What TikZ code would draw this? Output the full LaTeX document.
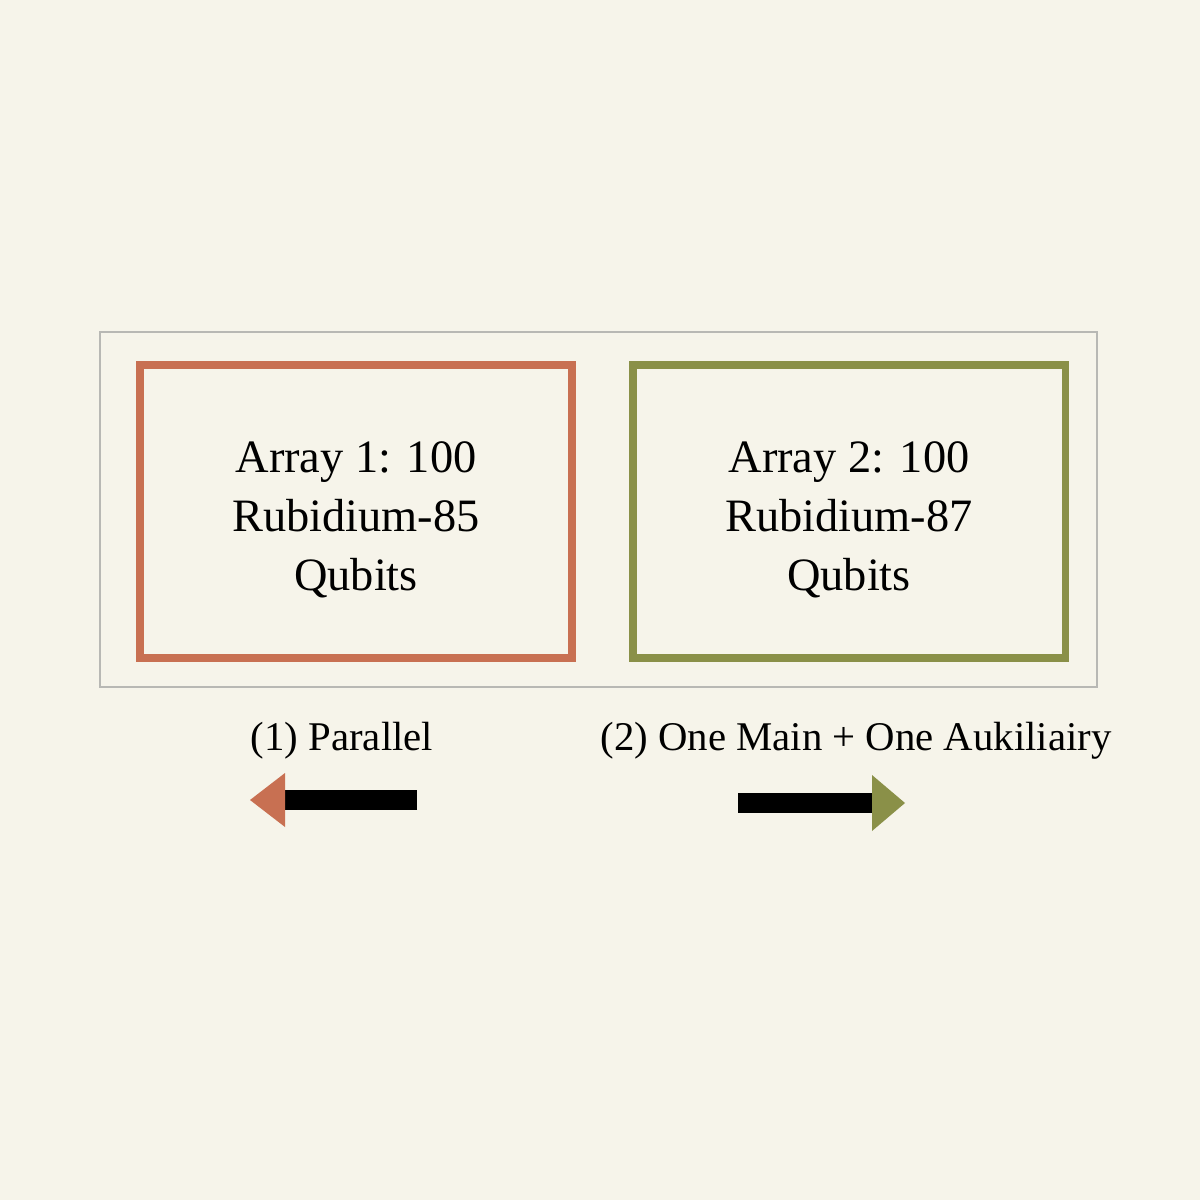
\documentclass[tikz,border=0pt]{standalone}
\usepackage{fontspec}
\setmainfont{Liberation Serif}
\definecolor{bg}{HTML}{F6F4EA}
\definecolor{rust}{HTML}{C87052}
\definecolor{olive}{HTML}{8A9048}
\definecolor{frame}{HTML}{B8B8B4}
\begin{document}
\begin{tikzpicture}[x=0.025cm,y=-0.025cm,
  box/.style={draw, line width=5pt, minimum width=432*0.025cm, minimum height=293*0.025cm},
  txt/.style={align=center, font=\fontsize{33}{42}\selectfont},
  lbl/.style={font=\fontsize{29}{34}\selectfont}]
\fill[bg] (0,0) rectangle (1200,1200);
\useasboundingbox (0,0) rectangle (1200,1200);
\draw[frame, line width=1.5pt] (100,332) rectangle (1097,687);
\node[box, draw=rust] (a1) at (356,511.5) {};
\node[box, draw=olive] (a2) at (849,511.5) {};
\node[txt] (t1) at (356,520) {Array 1: 100\\Rubidium-85\\Qubits};
\node[txt] (t2) at (849,520) {Array 2: 100\\Rubidium-87\\Qubits};
\node[lbl] (l1) at (342,741) {(1) Parallel};
\node[lbl] (l2) at (856,741) {(2) One Main + One Aukiliairy};
\coordinate (p1) at (417,800); \coordinate (p2) at (285,800);
\coordinate (q1) at (738,803); \coordinate (q2) at (872,803);
\draw[line width=20*0.025cm*28.45pt/1cm, black] (p1) -- (p2);
\fill[rust] (p2) ++(0,-27) -- ++(0,54) -- (250,800) -- cycle;
\draw[line width=20*0.025cm*28.45pt/1cm, black] (q1) -- (q2);
\fill[olive] (q2) ++(0,-28) -- ++(0,56) -- (905,803) -- cycle;
\end{tikzpicture}
\end{document}
